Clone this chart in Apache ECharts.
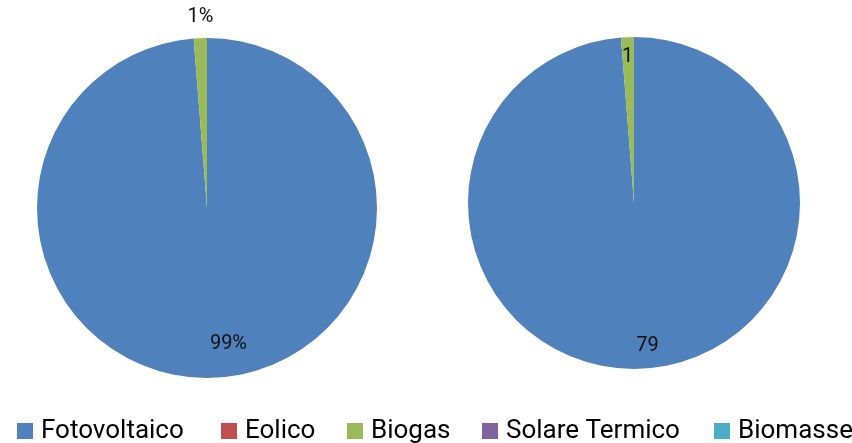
<!DOCTYPE html>
<html>
<head>
<meta charset="utf-8">
<script src="https://cdn.jsdelivr.net/npm/echarts@6/dist/echarts.min.js"></script>
<style>
  html, body { margin: 0; padding: 0; background: #fff; }
  #chart { width: 852px; height: 443px; }
</style>
</head>
<body>
<div id="chart"></div>
<script>
// ---- data ----
const categories = ['Fotovoltaico', 'Eolico', 'Biogas', 'Solare Termico', 'Biomasse'];
const leftValues = [79, 0, 1, 0, 0];
const rightValues = [79, 0, 1, 0, 0];

// ---- styles / layout ----
const colors = ['#4F81BD', '#C0504D', '#9BBB59', '#8064A2', '#4BACC6'];
const legendLeft = [17, 221, 347, 482, 714];
const fontFamily = 'Roboto, "Open Sans", sans-serif';
const leftOffsets = { 'Fotovoltaico': [18, 48], 'Biogas': [-3, -103] };
const rightOffsets = { 'Fotovoltaico': [10, 57], 'Biogas': [-3, -60] };

function buildData(values, offsets) {
  return categories.map((name, i) => {
    const item = { name: name, value: values[i] };
    if (offsets[name]) {
      item.label = { show: true, offset: offsets[name] };
    } else {
      item.label = { show: false };
    }
    return item;
  });
}

const chart = echarts.init(document.getElementById('chart'), null, { renderer: 'canvas' });

const option = {
  animation: false,
  color: colors,
  legend: categories.map((name, i) => ({
    data: [name],
    left: legendLeft[i],
    top: 418,
    padding: 0,
    icon: 'rect',
    itemWidth: 16,
    itemHeight: 16,
    selectedMode: false,
    textStyle: {
      fontFamily: fontFamily,
      fontSize: 26,
      lineHeight: 26,
      color: '#000',
      padding: [0, 0, 0, 3]
    }
  })),
  series: [
    {
      type: 'pie',
      center: [207, 208],
      radius: 170,
      startAngle: 90,
      clockwise: true,
      silent: true,
      label: {
        position: 'inside',
        fontFamily: fontFamily,
        fontSize: 20,
        color: '#111',
        formatter: p => Math.round(p.percent) + '%'
      },
      labelLine: { show: false },
      itemStyle: { borderWidth: 0 },
      data: buildData(leftValues, leftOffsets)
    },
    {
      type: 'pie',
      center: [634, 203],
      radius: 166,
      startAngle: 90,
      clockwise: true,
      silent: true,
      label: {
        position: 'inside',
        fontFamily: fontFamily,
        fontSize: 20,
        color: '#111',
        formatter: p => String(p.value)
      },
      labelLine: { show: false },
      itemStyle: { borderWidth: 0 },
      data: buildData(rightValues, rightOffsets)
    }
  ]
};

chart.setOption(option);
</script>
</body>
</html>
